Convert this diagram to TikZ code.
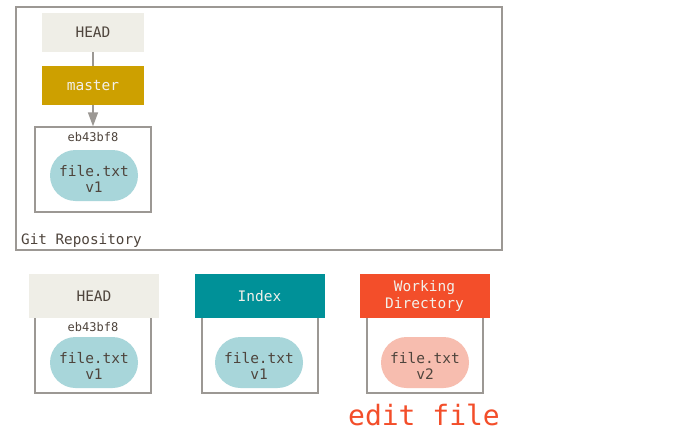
\documentclass[tikz,border=0pt]{standalone}
\usepackage{fontspec}
\setmonofont{DejaVu Sans Mono}
\usetikzlibrary{arrows.meta}
\definecolor{headgray}{RGB}{239,238,231}
\definecolor{mastergold}{RGB}{205,160,0}
\definecolor{indexteal}{RGB}{0,145,152}
\definecolor{workred}{RGB}{243,78,42}
\definecolor{blobblue}{RGB}{168,214,218}
\definecolor{blobpink}{RGB}{247,189,175}
\definecolor{framegray}{RGB}{156,152,148}
\definecolor{textgray}{RGB}{78,68,60}
\definecolor{lighttext}{RGB}{242,240,234}

\tikzset{
  frame/.style={draw=framegray,line width=1.4pt,fill=white,rectangle,inner sep=0pt},
  header/.style={rectangle,inner sep=0pt,minimum height=44,minimum width=130,
    font=\ttfamily\fontsize{14.5}{16.5}\selectfont,align=center},
  blob/.style={rectangle,rounded corners=25.5pt,minimum width=88,minimum height=51,
    inner sep=0pt,font=\ttfamily\fontsize{14.5}{16}\selectfont,text=textgray,align=center,
    text height=34pt,text depth=0pt},
  sha/.style={font=\ttfamily\fontsize{12}{13}\selectfont,text=textgray,inner sep=0pt},
  link/.style={draw=framegray,line width=1.6pt}
}

\begin{document}
\begin{tikzpicture}[x=1pt,y=-1pt]
        \useasboundingbox (0,0) rectangle (691,436);
        \coordinate (repo) at (259,128.5);
        \coordinate (h1) at (93,32.5);
        \coordinate (m1) at (93,85.5);
        \coordinate (c1) at (93,169.5);

        \coordinate (l1) at (94,296);
        \coordinate (l2) at (259.5,296);
        \coordinate (l3) at (424.5,296);

        % git repository
        \node[frame,minimum width=486,minimum height=243] (Repo) at (repo){};
        \node[anchor=west,font=\ttfamily\fontsize{14.3}{16}\selectfont,text=textgray,inner sep=0pt] (RepoName) at (21,241) {Git Repository};
        \node[header,fill=headgray,text=textgray,minimum width=102,minimum height=39] (Head) at (h1) {HEAD};
        \node[header,fill=mastergold,text=lighttext,minimum width=102,minimum height=39] (Master) at (m1) {master};
        \node[frame,minimum width=116,minimum height=85] (Commit) at (c1){};
        \node[sha] (CommitSha) at (93,137) {eb43bf8};
        \node[blob,fill=blobblue] (CommitBlob) at (94,175.5) {file.txt\\v1};
        \draw[link] (Head) -- (Master);
        \draw[link,-{Triangle[length=14pt,width=10pt]}] (Master) -- (Commit);

        % the three trees
        \node[frame,minimum width=116,minimum height=81] (HeadBox) at (93,352.5){};
        \node[frame,minimum width=116,minimum height=81] (IndexBox) at (260,352.5){};
        \node[frame,minimum width=116,minimum height=81] (WorkBox) at (425,352.5){};
        \node[header,fill=headgray,text=textgray] (HeadTree) at (l1) {HEAD};
        \node[header,fill=indexteal,text=lighttext] (IndexTree) at (l2) {Index};
        \node[header,fill=workred,text=lighttext] (WorkTree) at (l3) {Working\\Directory};
        \node[sha] (HeadSha) at (93,327.5) {eb43bf8};
        \node[blob,fill=blobblue] (HeadBlob) at (94,362.5) {file.txt\\v1};
        \node[blob,fill=blobblue] (IndexBlob) at (259,362.5) {file.txt\\v1};
        \node[blob,fill=blobpink] (WorkBlob) at (425,362.5) {file.txt\\v2};
        \node[font=\ttfamily\fontsize{28}{30}\selectfont,text=workred,inner sep=0pt] (Edit) at (424,415) {edit file};
    \end{tikzpicture}
\end{document}
